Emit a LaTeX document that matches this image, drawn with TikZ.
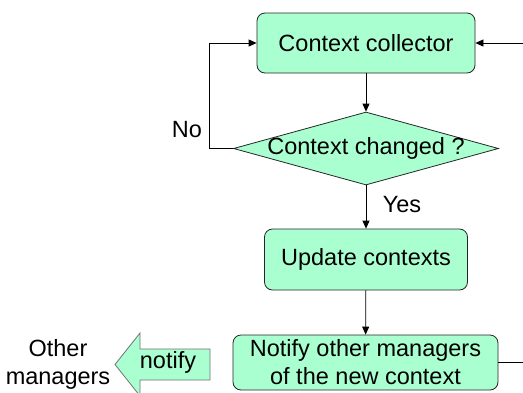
\documentclass[tikz,border=0pt]{standalone}
\usepackage{fontspec}
\setmainfont{Liberation Sans}
\usetikzlibrary{shapes.geometric,arrows.meta}
\definecolor{boxgreen}{RGB}{170,255,208}
\tikzset{
  box/.style={draw=black!85, fill=boxgreen, rounded corners=8pt, line width=0.8pt, inner sep=0pt},
  txt/.style={font=\fontsize{23.5}{28}\selectfont, align=center, inner sep=0pt},
  conn/.style={draw=black, line width=0.8pt},
  arr/.style={conn, -{Triangle[length=8pt,width=7pt]}},
}
\begin{document}
\begin{tikzpicture}[x=1pt,y=-1pt]
\clip (0,0) rectangle (523,392);
\fill[white] (0,0) rectangle (523,392);
% nodes
\node[box, minimum width=218pt, minimum height=60pt] (cc) at (366,43) {};
\node[txt] at (cc) {Context collector};
\node[diamond, draw=black!85, fill=boxgreen, line width=0.8pt, inner sep=0pt, minimum width=265pt, minimum height=73pt] (dia) at (366,148.5) {};
\node[txt] at (dia) {Context changed ?};
\node[box, minimum width=203pt, minimum height=61pt] (uc) at (366,259.5) {};
\node[txt] at (uc) {Update contexts};
\node[box, minimum width=265pt, minimum height=55pt] (nt) at (365.5,362.5) {};
\node[txt] at (nt) {Notify other managers\\of the new context};
% labels
\node[txt] (no) at (187,130) {No};
\node[txt] (yes) at (402,205) {Yes};
\node[txt] (om) at (58,364) {Other\\managers};
% block arrow
\coordinate (bt) at (115,364.5);
\filldraw[fill=boxgreen, draw=black!55, line width=0.8pt]
  (bt) -- (140,333) -- (140,349) -- (210,349) -- (210,380) -- (140,380) -- (140,396) -- cycle;
\node[txt] (nf) at (168,362) {notify};
% connectors
\draw[arr] (cc) -- (dia);
\draw[arr] (dia) -- (uc);
\draw[arr] (uc) -- (nt);
\coordinate (lc) at (209,148.5);
\draw[arr] (dia.west) -- (lc) |- (cc.west);
\coordinate (rc) at (524,362);
\draw[arr] (nt.east |- rc) -- (rc) |- (cc.east);
\end{tikzpicture}
\end{document}
